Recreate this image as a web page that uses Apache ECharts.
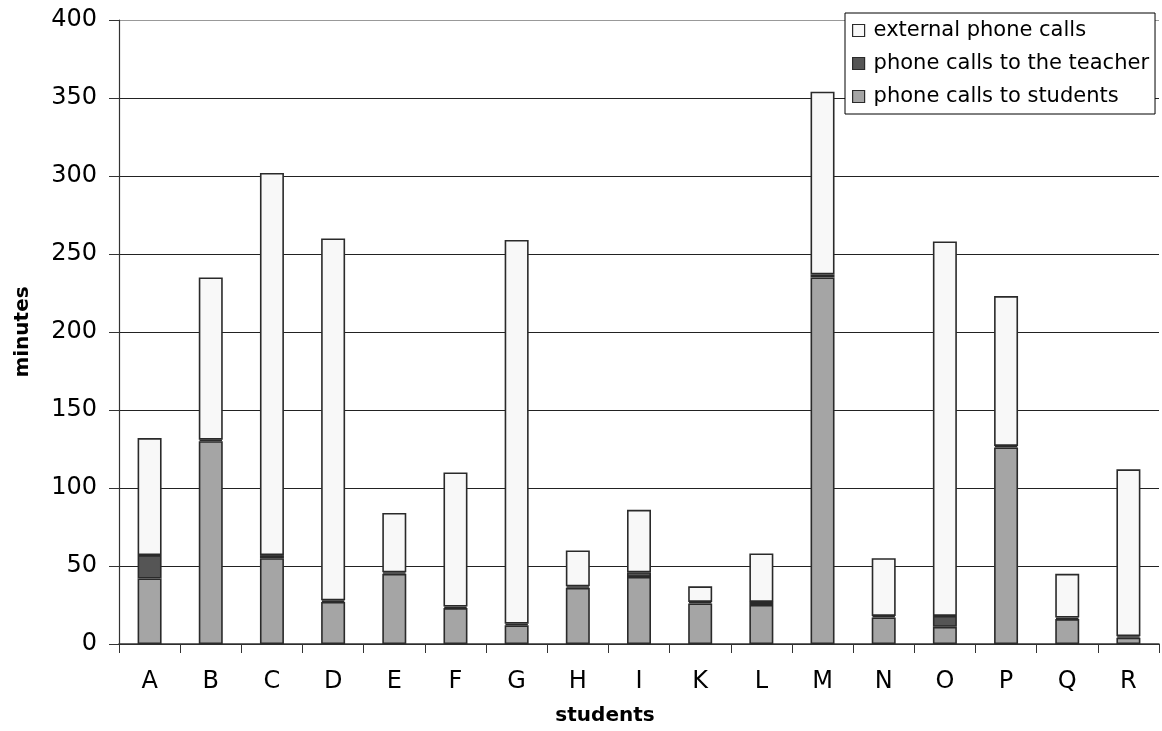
<!DOCTYPE html>
<html>
<head>
<meta charset="utf-8">
<script src="https://cdn.jsdelivr.net/npm/echarts@6/dist/echarts.min.js"></script>
<style>html,body{margin:0;padding:0;background:#fff;}#c{width:1162px;height:731px;}</style>
</head>
<body>
<div id="c"></div>
<script>
const categories = ['A','B','C','D','E','F','G','H','I','K','L','M','N','O','P','Q','R'];
const students = [42,130,55,27,45,23,12,36,43,26,25,235,17,11,126,16,4];
const teacher  = [15,1,2,1,1,1,1,1,3,1,2,2,1,7,1,1,1];
const external = [75,104,245,232,38,86,246,23,40,10,31,117,37,240,96,28,107];
const yTicks = [0,50,100,150,200,250,300,350,400];

const FONT = 'DejaVu Sans';
const chart = echarts.init(document.getElementById('c'), null, {renderer:'canvas'});
const border = {borderColor:'#2a2a2a', borderWidth:1.6};
chart.setOption({
  animation:false,
  backgroundColor:'#fff',
  textStyle:{fontFamily:FONT, color:'#000'},
  grid:{left:119, right:3, top:20, bottom:84, containLabel:false},
  legend:{
    orient:'vertical', left:845, top:13,
    data:['external phone calls','phone calls to the teacher','phone calls to students'],
    itemWidth:12, itemHeight:12, itemGap:12,
    padding:[7,6,7,7],
    borderColor:'#000', borderWidth:1, backgroundColor:'#fff',
    icon:'rect',
    itemStyle:{borderColor:'#2a2a2a', borderWidth:1.2},
    textStyle:{fontFamily:FONT, fontSize:21, color:'#000', padding:[0,0,0,4]}
  },
  xAxis:{
    type:'category', data:categories,
    name:'students', nameLocation:'middle', nameGap:62,
    nameTextStyle:{fontFamily:FONT, fontWeight:'bold', fontSize:20, color:'#000', padding:[0,68,0,0]},
    axisLine:{lineStyle:{color:'#333', width:1.5}},
    axisTick:{show:true, length:9, lineStyle:{color:'#333'}},
    axisLabel:{fontFamily:FONT, fontSize:24, color:'#000', margin:26}
  },
  yAxis:{
    type:'value', min:yTicks[0], max:yTicks[yTicks.length-1], interval:50,
    name:'minutes', nameLocation:'middle', nameGap:86, nameRotate:90,
    nameTextStyle:{fontFamily:FONT, fontWeight:'bold', fontSize:20, color:'#000'},
    axisLine:{show:true, lineStyle:{color:'#333', width:1.2}},
    axisTick:{show:true, length:10, lineStyle:{color:'#333'}},
    axisLabel:{fontFamily:FONT, fontSize:24, color:'#000', margin:22},
    splitLine:{show:true, lineStyle:{color:['#222','#222','#222','#222','#222','#222','#222','#222','#999'], width:1.2}}
  },
  series:[
    {name:'phone calls to students', type:'bar', stack:'t', data:students, barWidth:24,
     itemStyle:Object.assign({color:'#a5a5a5'}, border)},
    {name:'phone calls to the teacher', type:'bar', stack:'t', data:teacher, barWidth:24,
     itemStyle:Object.assign({color:'#555555'}, border)},
    {name:'external phone calls', type:'bar', stack:'t', data:external, barWidth:24,
     itemStyle:Object.assign({color:'#f8f8f8'}, border)}
  ]
});
</script>
</body>
</html>
